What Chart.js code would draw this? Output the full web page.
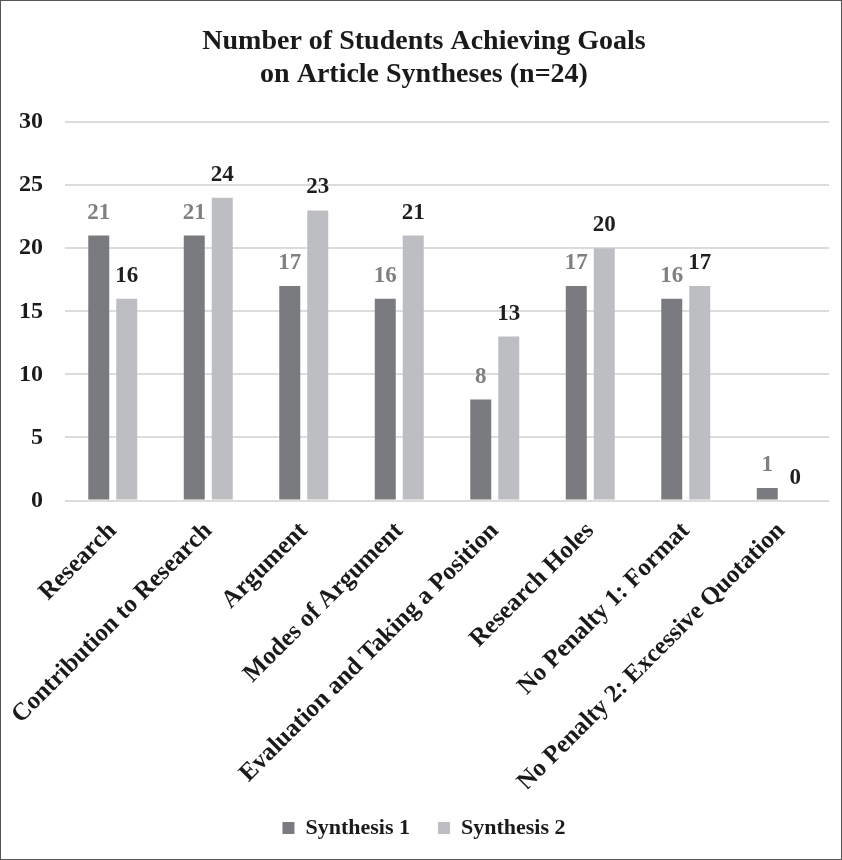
<!DOCTYPE html>
<html>
<head>
<meta charset="utf-8">
<script src="https://cdn.jsdelivr.net/npm/chart.js"></script>
<style>
  html, body { margin: 0; padding: 0; background: #fff; }
  .frame { width: 840px; height: 858px; border: 1px solid #555; box-sizing: content-box; }
  canvas { display: block; }
</style>
</head>
<body>
<div class="frame"><canvas id="goalsChart" width="840" height="858"></canvas></div>
<script>
// categories and values
const categories = [
  'Research',
  'Contribution to Research',
  'Argument',
  'Modes of Argument',
  'Evaluation and Taking a Position',
  'Research Holes',
  'No Penalty 1: Format',
  'No Penalty 2: Excessive Quotation'
];
const synthesis1 = [21, 21, 17, 16, 8, 17, 16, 1];
const synthesis2 = [16, 24, 23, 21, 13, 20, 17, 0];
const yTicks = [0, 5, 10, 15, 20, 25, 30];

const serif = '"Liberation Serif", "DejaVu Serif", serif';

// value labels above each bar
const barLabels = {
  id: 'barLabels',
  afterDatasetsDraw(chart) {
    const ctx = chart.ctx;
    ctx.save();
    ctx.font = 'bold 23px ' + serif;
    ctx.textAlign = 'center';
    ctx.textBaseline = 'alphabetic';
    chart.data.datasets.forEach((ds, i) => {
      const meta = chart.getDatasetMeta(i);
      ctx.fillStyle = ds.labelColor;
      meta.data.forEach((bar, j) => {
        ctx.fillText(ds.data[j], bar.x, bar.y - 17);
      });
    });
    ctx.restore();
  }
};

new Chart(document.getElementById('goalsChart'), {
  type: 'bar',
  data: {
    labels: categories,
    datasets: [
      {
        label: 'Synthesis 1',
        data: synthesis1,
        backgroundColor: '#7a7b7f',
        labelColor: '#808080',
        categoryPercentage: 0.586,
        barPercentage: 0.75
      },
      {
        label: 'Synthesis 2',
        data: synthesis2,
        backgroundColor: '#bdbec2',
        labelColor: '#1e1e1e',
        categoryPercentage: 0.586,
        barPercentage: 0.75
      }
    ]
  },
  options: {
    responsive: false,
    animation: false,
    layout: { padding: { left: 18, right: 12, top: 0, bottom: 10 } },
    plugins: {
      title: {
        display: true,
        text: ['Number of Students Achieving Goals', 'on Article Syntheses (n=24)'],
        color: '#1a1a1a',
        font: { family: serif, size: 28, weight: 'bold', lineHeight: 1.18 },
        padding: { top: 24, bottom: 31 }
      },
      legend: {
        position: 'bottom',
        labels: {
          color: '#1a1a1a',
          font: { family: serif, size: 22, weight: 'bold' },
          boxWidth: 12,
          boxHeight: 12,
          padding: 28
        }
      },
      tooltip: { enabled: false }
    },
    scales: {
      x: {
        grid: { display: false },
        border: { display: false },
        // long rotated labels may hang past the plot on the left, like the original;
        // the taller legend padding is taken back from the label band
        afterFit(axis) {
          axis.paddingLeft = 0;
          axis.paddingRight = 0;
          axis.height -= 16;
        },
        ticks: {
          color: '#1a1a1a',
          font: { family: serif, size: 25, weight: 'bold' },
          maxRotation: 45,
          minRotation: 45,
          autoSkip: false,
          padding: 8
        }
      },
      y: {
        min: 0,
        max: 30,
        afterBuildTicks(axis) { axis.ticks = yTicks.map(v => ({ value: v })); },
        // chart.js counts the tick padding twice; keep the axis just label + gap wide
        afterFit(axis) { axis.width = 46; },
        grid: { color: '#dcdcdc', lineWidth: 2, drawTicks: false },
        border: { display: false },
        ticks: {
          color: '#1a1a1a',
          font: { family: serif, size: 24, weight: 'bold' },
          padding: 22
        }
      }
    }
  },
  plugins: [barLabels]
});
</script>
</body>
</html>
